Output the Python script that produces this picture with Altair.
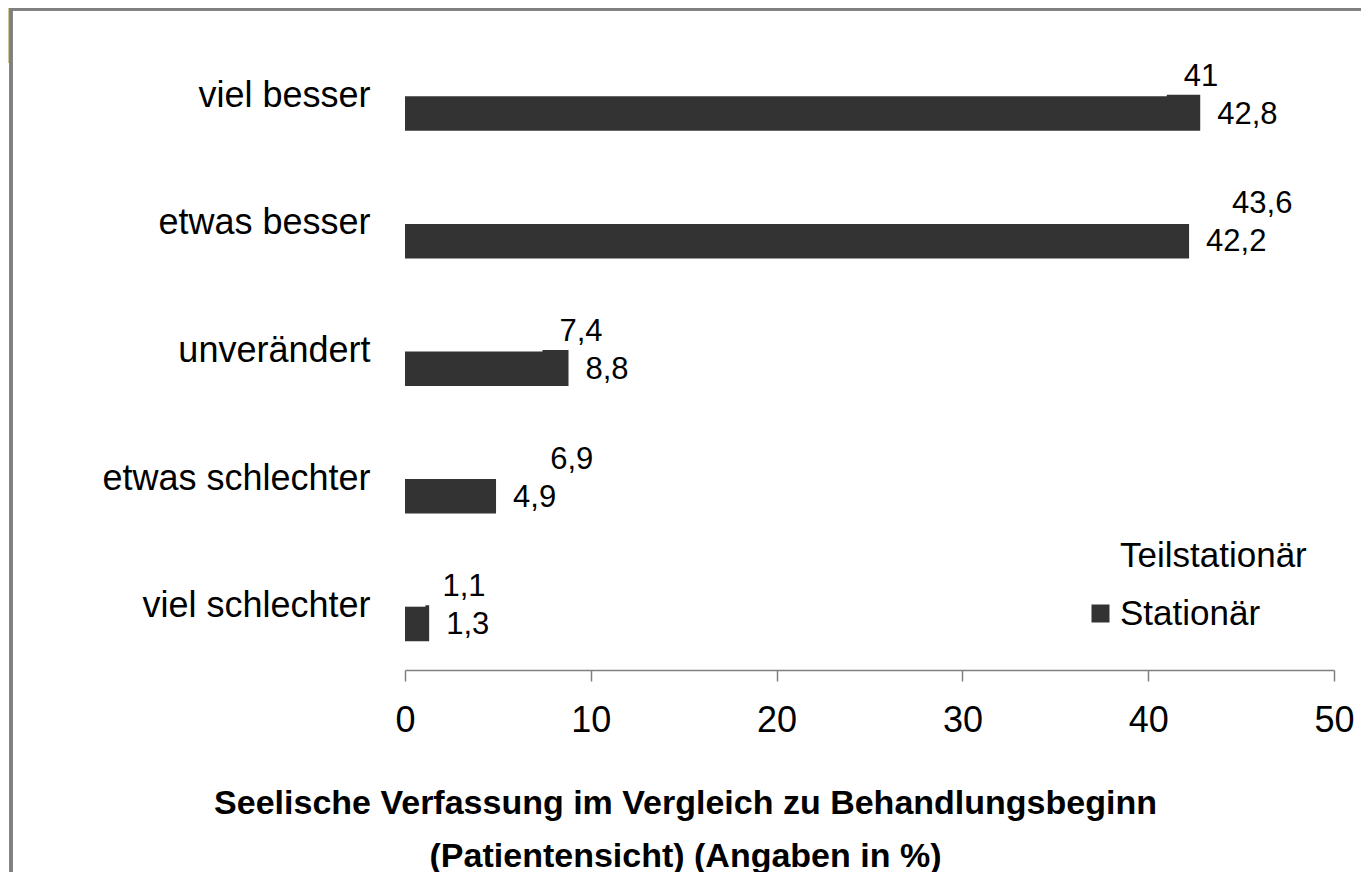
import altair as alt
import pandas as pd

categories = ["viel besser", "etwas besser", "unverändert", "etwas schlechter", "viel schlechter"]
series_names = ["Teilstationär", "Stationär"]
teilstationaer = [41, 43.6, 7.4, 6.9, 1.1]
stationaer = [42.8, 42.2, 8.8, 4.9, 1.3]
x_ticks = [0, 10, 20, 30, 40, 50]
title_lines = ["Seelische Verfassung im Vergleich zu Behandlungsbeginn",
               "(Patientensicht) (Angaben in %)"]

rows = []
for c, t, s in zip(categories, teilstationaer, stationaer):
    rows.append({"cat": c, "series": series_names[0], "value": t})
    rows.append({"cat": c, "series": series_names[1], "value": s})
df = pd.DataFrame(rows)

FONT = "Liberation Sans"
DARK = "#333333"

y_enc = alt.Y("cat:N", sort=categories,
              scale=alt.Scale(paddingInner=0, paddingOuter=0),
              axis=alt.Axis(title=None, domain=False, ticks=False, labelFont=FONT,
                            labelFontSize=36, labelColor="black", labelPadding=35,
                            labelLimit=400))
x_enc = alt.X("value:Q", scale=alt.Scale(domain=[0, 50], nice=False),
              axis=alt.Axis(title=title_lines, titleX=280, titleY=116, titleAlign="center",
                            titleAnchor="middle", titleBaseline="top", titleFont=FONT,
                            titleFontSize=34, titleFontWeight="bold", titleColor="black",
                            titleLineHeight=53,
                            values=x_ticks, grid=False, labelFont=FONT, labelFlush=False,
                            labelFontSize=36, labelColor="black", labelPadding=22,
                            domainColor="#808080", domainWidth=1.5, tickColor="#808080",
                            tickWidth=1.5, tickSize=11))

base = alt.Chart(df).transform_calculate(
    label="replace(toString(datum.value), '.', ',')"
)

stat_bars = base.transform_filter(alt.datum.series == "Stationär").mark_bar(
    height=36, yOffset=17
).encode(
    y=y_enc, x=x_enc,
    color=alt.Color("series:N",
                    scale=alt.Scale(domain=series_names, range=["#ffffff", DARK]),
                    legend=alt.Legend(title=None, orient="none", legendX=678, legendY=506,
                                      symbolType="square", symbolSize=324,
                                      symbolStrokeWidth=0, labelFont=FONT,
                                      labelFontSize=35, labelColor="black",
                                      labelOffset=2, rowPadding=22, padding=0,
                                      labelLimit=400))
)

# Teilstationär bars are white and overlap the top edge of the Stationär bars
teil_bars = base.transform_filter(alt.datum.series == "Teilstationär").mark_bar(
    height=35.5, yOffset=-17.25, color="#ffffff"
).encode(y=alt.Y("cat:N", sort=categories), x="value:Q")

stat_text = base.transform_filter(alt.datum.series == "Stationär").mark_text(
    align="left", baseline="middle", dx=17, yOffset=19, font=FONT, fontSize=31, color="black"
).encode(y=alt.Y("cat:N", sort=categories), x="value:Q", text="label:N")

teil_text = base.transform_filter(alt.datum.series == "Teilstationär").mark_text(
    align="left", baseline="middle", dx=17, yOffset=-19, font=FONT, fontSize=31, color="black"
).encode(y=alt.Y("cat:N", sort=categories), x="value:Q", text="label:N")

# decorative frame (slide border)
olive = alt.Chart(df).mark_rect(color="#cdc99a").encode(
    x=alt.value(-397), x2=alt.value(-395), y=alt.value(-24), y2=alt.value(31)
)
top_border = alt.Chart(df).mark_rule(color="#7f7f7f", strokeWidth=2.5).encode(
    x=alt.value(-394), x2=alt.value(960), y=alt.value(-23)
)
left_border = alt.Chart(df).mark_rule(color="#7f7f7f", strokeWidth=2.5).encode(
    x=alt.value(-394), y=alt.value(-24), y2=alt.value(846)
)

chart = alt.layer(
    stat_bars, teil_bars, stat_text, teil_text, olive, top_border, left_border
).properties(
    width=929, height=638,
    autosize=alt.AutoSizeParams(type="none"),
    padding={"left": 397, "top": 24, "right": 27, "bottom": 202},
    background="white",
).configure_view(stroke=None)

chart.save("out.html", embed_options={"renderer": "svg", "actions": False})
